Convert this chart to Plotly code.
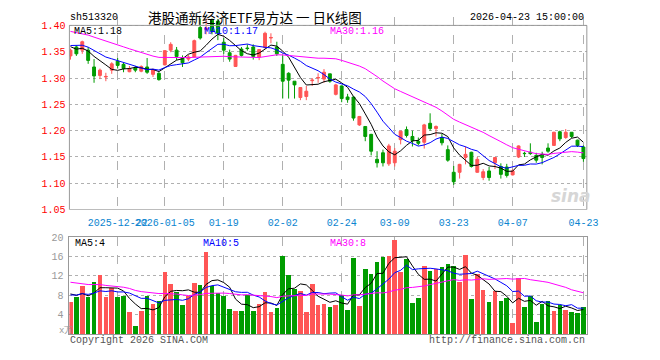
import numpy as np
import plotly.graph_objects as go

# ---------------- data ----------------
dates = [
    "2025-12-10", "2025-12-11", "2025-12-12", "2025-12-15", "2025-12-16", "2025-12-17", "2025-12-18", "2025-12-19",
    "2025-12-22", "2025-12-23", "2025-12-24", "2025-12-25", "2025-12-26", "2025-12-29", "2025-12-30", "2025-12-31",
    "2026-01-05", "2026-01-06", "2026-01-07", "2026-01-08", "2026-01-09",
    "2026-01-12", "2026-01-13", "2026-01-14", "2026-01-15", "2026-01-16",
    "2026-01-19", "2026-01-20", "2026-01-21", "2026-01-22", "2026-01-23",
    "2026-01-26", "2026-01-27", "2026-01-28", "2026-01-29", "2026-01-30",
    "2026-02-02", "2026-02-03", "2026-02-04", "2026-02-05", "2026-02-06",
    "2026-02-09", "2026-02-10", "2026-02-11", "2026-02-12", "2026-02-13",
    "2026-02-24", "2026-02-25", "2026-02-26", "2026-02-27",
    "2026-03-02", "2026-03-03", "2026-03-04", "2026-03-05", "2026-03-06",
    "2026-03-09", "2026-03-10", "2026-03-11", "2026-03-12", "2026-03-13",
    "2026-03-16", "2026-03-17", "2026-03-18", "2026-03-19", "2026-03-20",
    "2026-03-23", "2026-03-24", "2026-03-25", "2026-03-26", "2026-03-27",
    "2026-03-30", "2026-03-31", "2026-04-01", "2026-04-02", "2026-04-03",
    "2026-04-07", "2026-04-08", "2026-04-09", "2026-04-10",
    "2026-04-13", "2026-04-14", "2026-04-15", "2026-04-16", "2026-04-17",
    "2026-04-20", "2026-04-21", "2026-04-22", "2026-04-23",
]

opens = [
    1.342, 1.359, 1.353, 1.353, 1.321, 1.305, 1.302, 1.315, 1.332, 1.326,
    1.312, 1.319, 1.313, 1.321, 1.307, 1.309, 1.325, 1.353, 1.353, 1.338,
    1.336, 1.340, 1.396, 1.392, 1.410, 1.408, 1.368, 1.348, 1.322, 1.355,
    1.357, 1.359, 1.340, 1.358, 1.376, 1.359, 1.326, 1.309, 1.294, 1.263,
    1.265, 1.295, 1.300, 1.298, 1.308, 1.269, 1.285, 1.264, 1.264, 1.211,
    1.208, 1.193, 1.1455, 1.158, 1.137, 1.139, 1.183, 1.202, 1.189, 1.180,
    1.178, 1.214, 1.204, 1.187, 1.164, 1.121, 1.121, 1.149, 1.159, 1.121,
    1.111, 1.1235, 1.139, 1.132, 1.131, 1.116, 1.150, 1.157, 1.159, 1.153,
    1.154, 1.167, 1.172, 1.198, 1.187, 1.197, 1.182, 1.169,
]
highs = [
    1.356, 1.362, 1.371, 1.359, 1.336, 1.318, 1.310, 1.330, 1.338, 1.329,
    1.323, 1.323, 1.324, 1.338, 1.318, 1.311, 1.353, 1.368, 1.359, 1.343,
    1.344, 1.373, 1.413, 1.413, 1.413, 1.412, 1.376, 1.354, 1.344, 1.359,
    1.364, 1.364, 1.355, 1.388, 1.385, 1.369, 1.343, 1.311, 1.294, 1.283,
    1.285, 1.300, 1.309, 1.317, 1.308, 1.289, 1.286, 1.270, 1.264, 1.228,
    1.208, 1.194, 1.161, 1.164, 1.175, 1.167, 1.200, 1.208, 1.200, 1.187,
    1.213, 1.233, 1.210, 1.194, 1.172, 1.133, 1.137, 1.170, 1.160, 1.150,
    1.127, 1.131, 1.150, 1.138, 1.137, 1.127, 1.172, 1.160, 1.176, 1.158,
    1.160, 1.176, 1.198, 1.200, 1.203, 1.197, 1.183, 1.172,
]
lows = [
    1.335, 1.342, 1.346, 1.327, 1.291, 1.298, 1.294, 1.308, 1.318, 1.311,
    1.311, 1.311, 1.311, 1.308, 1.302, 1.295, 1.324, 1.349, 1.334, 1.321,
    1.332, 1.339, 1.373, 1.383, 1.383, 1.372, 1.346, 1.331, 1.321, 1.341,
    1.352, 1.335, 1.334, 1.356, 1.366, 1.342, 1.261, 1.261, 1.261, 1.258,
    1.258, 1.285, 1.291, 1.291, 1.291, 1.267, 1.254, 1.253, 1.219, 1.209,
    1.180, 1.153, 1.130, 1.132, 1.133, 1.132, 1.174, 1.187, 1.170, 1.172,
    1.166, 1.200, 1.189, 1.172, 1.141, 1.097, 1.109, 1.136, 1.130, 1.120,
    1.106, 1.105, 1.127, 1.109, 1.111, 1.115, 1.148, 1.150, 1.154, 1.139,
    1.136, 1.158, 1.171, 1.180, 1.1845, 1.186, 1.169, 1.141,
]
closes = [
    1.353, 1.346, 1.369, 1.3335, 1.304, 1.315, 1.303, 1.327, 1.324, 1.318,
    1.318, 1.315, 1.322, 1.311, 1.316, 1.297, 1.352, 1.364, 1.341, 1.329,
    1.340, 1.371, 1.376, 1.395, 1.388, 1.385, 1.353, 1.336, 1.343, 1.343,
    1.356, 1.341, 1.354, 1.385, 1.377, 1.346, 1.294, 1.296, 1.287, 1.282,
    1.275, 1.296, 1.301, 1.311, 1.294, 1.287, 1.261, 1.259, 1.224, 1.227,
    1.189, 1.161, 1.139, 1.139, 1.171, 1.161, 1.199, 1.191, 1.181, 1.176,
    1.211, 1.204, 1.208, 1.177, 1.144, 1.103, 1.136, 1.155, 1.132, 1.1455,
    1.122, 1.111, 1.149, 1.117, 1.115, 1.1235, 1.171, 1.1565, 1.1565, 1.144,
    1.149, 1.161, 1.197, 1.1845, 1.197, 1.189, 1.172, 1.147,
]
volumes = [
    6.7, 7.6, 9.9, 7.6, 10.7, 12.1, 7.6, 9.5, 7.6, 7.8,
    4.5, 1.8, 4.7, 7.8, 6.3, 6.9, 12.9, 10.3, 8.7, 6.0,
    7.8, 10.5, 10.1, 16.9, 9.9, 8.5, 7.8, 5.3, 4.7, 4.7,
    8.0, 4.7, 6.3, 8.7, 4.5, 5.5, 16.0, 12.1, 9.3, 8.9,
    4.5, 10.3, 6.1, 6.3, 5.7, 6.1, 8.0, 4.9, 15.7, 5.9,
    13.5, 12.5, 14.9, 15.9, 16.1, 19.3, 12.9, 15.5, 6.5, 7.5,
    14.1, 13.1, 13.5, 13.9, 14.5, 14.1, 10.7, 16.3, 7.3, 12.3,
    9.1, 6.7, 8.9, 6.9, 7.5, 2.3, 11.5, 5.7, 7.9, 2.5,
    6.3, 6.9, 4.7, 6.1, 4.9, 4.5, 4.3, 5.7,
]
# sessions before the visible window (only feed the moving averages)
prev_closes = [
    1.41, 1.42, 1.43, 1.42, 1.43, 1.44, 1.43, 1.42, 1.42, 1.43,
    1.43, 1.42, 1.41, 1.42, 1.37, 1.36, 1.35, 1.34, 1.35, 1.34,
    1.35, 1.36, 1.37, 1.37, 1.37, 1.37, 1.36, 1.36, 1.355,
]
prev_volumes = [
    13, 12, 14, 11, 12, 13, 12, 11, 13, 12,
    14, 12, 12, 11, 10, 12, 11, 12, 11, 12,
    8, 7, 9, 8, 7.5, 9, 8, 10, 7.8,
]

tick_dates = ["2025-12-22", "2026-01-05", "2026-01-19", "2026-02-02", "2026-02-24",
              "2026-03-09", "2026-03-23", "2026-04-07", "2026-04-23"]
tick_labels = ["2025-12-22", "2026-01-05", "01-19", "02-02", "02-24",
               "03-09", "03-23", "04-07", "04-23"]
price_ticks = [1.05, 1.10, 1.15, 1.20, 1.25, 1.30, 1.35, 1.40]
vol_ticks = [4, 8, 12, 16, 20]

# ---------------- helpers ----------------
W, H = 660, 360
def px(x):
    return x / W
def py(y):
    return 1 - y / H

RED = "#ff5555"
GREEN = "#009c00"
MONO = "Liberation Mono"
CJK = "Noto Sans CJK SC"

def ma(prev, cur, n):
    s = np.array(list(prev) + list(cur), dtype=float)
    out = np.convolve(s, np.ones(n) / n, mode="valid")
    return out[-len(cur):]

c5, c10, c30 = ma(prev_closes, closes, 5), ma(prev_closes, closes, 10), ma(prev_closes, closes, 30)
v5, v10, v30 = ma(prev_volumes, volumes, 5), ma(prev_volumes, volumes, 10), ma(prev_volumes, volumes, 30)
vol_colors = [RED if c >= o else GREEN for o, c in zip(opens, closes)]

fig = go.Figure()
fig.add_trace(go.Candlestick(
    x=dates, open=opens, high=highs, low=lows, close=closes,
    increasing=dict(line=dict(color=RED, width=1), fillcolor=RED),
    decreasing=dict(line=dict(color=GREEN, width=1), fillcolor=GREEN),
    whiskerwidth=0, showlegend=False, hoverinfo="skip", xaxis="x", yaxis="y"))
for arr, col in [(c5, "black"), (c10, "#0000ff"), (c30, "#ff00ff")]:
    fig.add_trace(go.Scatter(x=dates, y=arr, mode="lines", line=dict(color=col, width=1),
                             showlegend=False, hoverinfo="skip", xaxis="x", yaxis="y"))
fig.add_trace(go.Bar(x=dates, y=volumes, marker=dict(color=vol_colors, line=dict(width=0)),
                     width=0.78, showlegend=False, hoverinfo="skip", xaxis="x2", yaxis="y2"))
for arr, col in [(v5, "black"), (v10, "#0000ff"), (v30, "#ff00ff")]:
    fig.add_trace(go.Scatter(x=dates, y=arr, mode="lines", line=dict(color=col, width=1),
                             showlegend=False, hoverinfo="skip", xaxis="x2", yaxis="y2"))

xl, xr = 70.7, 597.7
xdom = [px(xl), px(xr)]
xrange = [-0.18, 87.58]
grid = "#b0b0b0"
frame = "#999999"

fig.update_layout(
    width=W, height=H, margin=dict(l=0, r=0, t=0, b=0),
    paper_bgcolor="white", plot_bgcolor="rgba(0,0,0,0)", hovermode=False,
    bargap=0,
    xaxis=dict(domain=xdom, type="category", range=xrange, anchor="y",
               tickmode="array", tickvals=tick_dates, ticktext=tick_labels, tickangle=0,
               showgrid=True, gridcolor=grid, griddash="dash", gridwidth=1,
               showline=False, zeroline=False, ticks="", ticklabelstandoff=5,
               tickfont=dict(family=MONO, size=10, color="#0a85d0"),
               rangeslider=dict(visible=False), fixedrange=True),
    yaxis=dict(domain=[py(211.7), py(12.93)], range=[1.05, 1.415], anchor="x",
               tickmode="array", tickvals=price_ticks, ticktext=["%.2f" % v for v in price_ticks],
               showgrid=True, gridcolor=grid, griddash="dot", gridwidth=1,
               showline=False, zeroline=False, ticks="", ticklabelstandoff=3,
               tickfont=dict(family=MONO, size=10, color="#ff0000")),
    xaxis2=dict(domain=xdom, type="category", range=xrange, anchor="y2",
                tickmode="array", tickvals=tick_dates, showticklabels=False,
                showgrid=True, gridcolor=grid, griddash="dash", gridwidth=1,
                showline=True, mirror=True, linecolor=frame, linewidth=1,
                zeroline=False, ticks=""),
    yaxis2=dict(domain=[py(340.7), py(240)], range=[0, 20], anchor="x2",
                tickmode="array", tickvals=vol_ticks, ticktext=[str(v) for v in vol_ticks],
                showgrid=True, gridcolor=grid, griddash="dot", gridwidth=1,
                showline=True, mirror=True, linecolor=frame, linewidth=1,
                zeroline=False, ticks="", ticklabelstandoff=3,
                tickfont=dict(family=MONO, size=10, color="#999999")),
)

fig.add_shape(type="rect", xref="paper", yref="y", x0=px(xl), x1=px(xr), y0=1.05, y1=1.40,
              line=dict(color=frame, width=1), layer="above")

def txt(s, x, y, color="black", size=10, family=MONO, anchor="left", **kw):
    fig.add_annotation(text=s, x=px(x), y=py(y), xref="paper", yref="paper",
                       xanchor=anchor, yanchor="middle", showarrow=False,
                       font=dict(family=family, size=size, color=color), **kw)

txt("sh513320", 69.5, 12.5)
txt("港股通新经济ETF易方达 一 日K线图", 260, 12.5, size=13.5, family=CJK, anchor="center")
txt("2026-04-23 15:00:00", 597, 12.5, anchor="right")
txt("MA5:1.18", 73.5, 27.4)
txt("MA10:1.17", 205.5, 27.4, color="#0000ff")
txt("MA30:1.16", 334, 27.4, color="#ff00ff")
txt("MA5:4", 74.5, 246.3)
txt("MA10:5", 204.5, 246.3, color="#0000ff")
txt("MA30:8", 334, 246.3, color="#ff00ff")
txt("x万", 58, 337, color="#999999", size=9)
txt("Copyright 2026 SINA.COM", 69.5, 347.5, color="#555555")
txt("http://finance.sina.com.cn", 598, 347.5, color="#555555", anchor="right")
txt("<b><i>sina</i></b>", 582, 198, color="#d6d6d6", size=17, family="DejaVu Sans", anchor="center")

fig.write_html("out.html", config={"displayModeBar": False, "staticPlot": True},
               post_script="document.body.style.margin='0';document.body.style.overflow='hidden';")
